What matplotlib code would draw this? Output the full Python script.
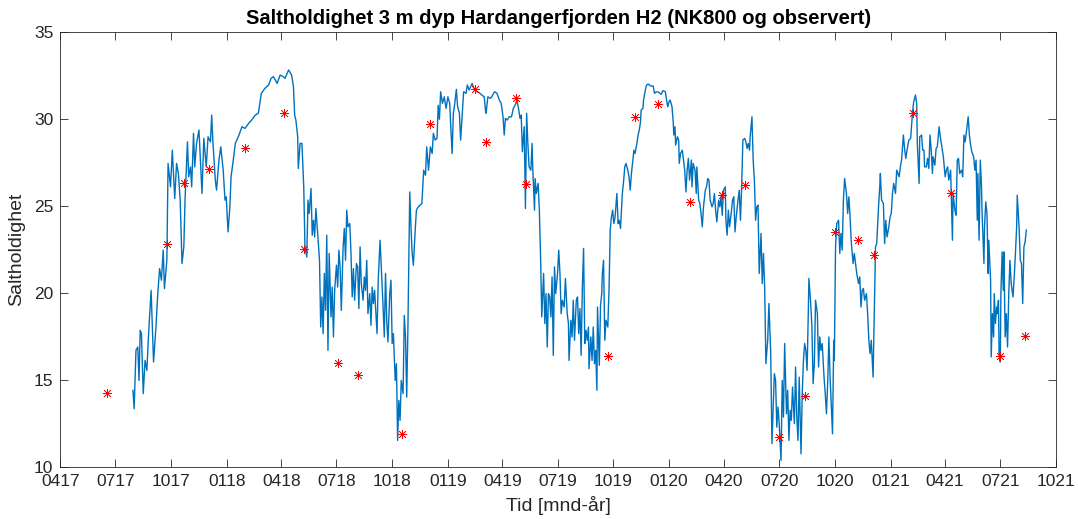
import numpy as np
import matplotlib
matplotlib.use("Agg")
import matplotlib.pyplot as plt
import matplotlib.dates as mdates

# ---------------------------------------------------------------------------
# Data (days after 2017-04-01, salinity)
# ---------------------------------------------------------------------------
START = np.datetime64("2017-04-01")

model_days = [
    120, 122, 125, 128, 130, 132, 134, 137, 140, 143, 146, 150, 154, 158, 161, 164,
    167, 170, 172, 176, 178, 182, 185, 189, 192, 195, 198, 201, 204, 206, 210, 212,
    215, 217, 220, 222, 225, 229, 234, 237, 241, 244, 248, 250, 252, 256, 258, 262,
    265, 269, 272, 274, 277, 280, 282, 286, 289, 294, 300, 305, 311, 316, 322, 327,
    332, 338, 344, 348, 352, 358, 363, 368, 371, 377, 382, 385, 387, 389, 392, 393,
    396, 399, 402, 404, 407, 409, 411, 414, 416, 418, 420, 422, 425, 428, 430, 432,
    434, 436, 438, 440, 442, 444, 447, 449, 451, 453, 456, 458, 460, 462, 464, 467,
    469, 471, 473, 475, 478, 480, 482, 484, 486, 489, 491, 493, 495, 497, 500, 502,
    504, 506, 508, 511, 513, 515, 517, 519, 523, 525, 528, 530, 533, 535, 537, 539,
    541, 544, 546, 548, 550, 553, 555, 557, 559, 561, 563, 566, 568, 570, 572, 574,
    577, 579, 581, 583, 586, 588, 591, 597, 600, 603, 605, 608, 611, 614, 616, 619,
    622, 624, 626, 628, 631, 634, 637, 640, 643, 645, 647, 649, 651, 654, 656, 659,
    661, 663, 666, 670, 672, 675, 680, 684, 688, 692, 696, 700, 702, 703, 706, 710,
    713, 717, 721, 725, 728, 731, 733, 735, 738, 741, 745, 748, 751, 754, 757, 759,
    761, 763, 766, 768, 770, 772, 774, 777, 779, 780, 783, 784, 786, 789, 791, 793,
    795, 798, 800, 802, 804, 806, 808, 810, 812, 814, 816, 818, 821, 823, 825, 827,
    829, 832, 834, 837, 839, 840, 843, 845, 847, 849, 852, 854, 856, 858, 860, 862,
    864, 866, 868, 870, 872, 873, 876, 878, 880, 882, 884, 886, 887, 890, 892, 894,
    895, 897, 899, 901, 904, 906, 908, 910, 912, 914, 916, 919, 921, 923, 925, 928,
    930, 932, 934, 937, 939, 941, 943, 946, 947, 949, 952, 954, 956, 958, 959, 962,
    963, 966, 968, 971, 975, 979, 981, 984, 988, 992, 995, 999, 1001, 1003, 1005, 1007,
    1010, 1012, 1013, 1015, 1016, 1019, 1021, 1022, 1024, 1027, 1029, 1031, 1033, 1035, 1037, 1039,
    1042, 1043, 1045, 1048, 1050, 1051, 1054, 1056, 1058, 1060, 1062, 1065, 1067, 1069, 1071, 1073,
    1076, 1078, 1080, 1082, 1084, 1087, 1089, 1091, 1093, 1095, 1098, 1099, 1101, 1103, 1105, 1108,
    1110, 1112, 1114, 1116, 1119, 1121, 1123, 1125, 1127, 1130, 1132, 1134, 1136, 1138, 1139, 1142,
    1144, 1146, 1148, 1150, 1152, 1154, 1157, 1159, 1161, 1163, 1165, 1168, 1170, 1173, 1175, 1179,
    1181, 1183, 1185, 1187, 1190, 1192, 1194, 1196, 1199, 1201, 1203, 1205, 1207, 1209, 1212, 1214,
    1216, 1218, 1220, 1223, 1225, 1227, 1229, 1231, 1233, 1235, 1236, 1239, 1241, 1243, 1245, 1247,
    1250, 1252, 1254, 1256, 1258, 1261, 1263, 1265, 1267, 1269, 1271, 1275, 1277, 1278, 1280, 1282,
    1285, 1287, 1289, 1291, 1293, 1295, 1298, 1300, 1302, 1304, 1306, 1309, 1311, 1313, 1315, 1318,
    1320, 1322, 1324, 1326, 1328, 1331, 1333, 1335, 1337, 1339, 1342, 1344, 1346, 1348, 1351, 1353,
    1354, 1356, 1359, 1361, 1363, 1365, 1368, 1370, 1372, 1374, 1376, 1379, 1381, 1383, 1385, 1387,
    1389, 1392, 1394, 1396, 1398, 1401, 1404, 1407, 1409, 1412, 1414, 1415, 1418, 1419, 1422, 1424,
    1426, 1427, 1430, 1432, 1434, 1436, 1438, 1440, 1441, 1444, 1446, 1448, 1451, 1453, 1456, 1458,
    1461, 1463, 1465, 1467, 1470, 1471, 1473, 1474, 1477, 1479, 1481, 1483, 1485, 1488, 1490, 1492,
    1494, 1497, 1499, 1501, 1503, 1505, 1508, 1510, 1512, 1514, 1515, 1517, 1519, 1521, 1522, 1525,
    1526, 1528, 1530, 1532, 1533, 1536, 1537, 1539, 1541, 1542, 1544, 1546, 1547, 1549, 1550, 1552,
    1553, 1555, 1557, 1558, 1560, 1562, 1564, 1566, 1568, 1570, 1573, 1575, 1577, 1579, 1580, 1583,
    1585, 1587, 1589, 1591, 1593, 1595,
]

model_salt = [
    14.41, 13.35, 16.71, 16.90, 14.98, 17.86, 17.67, 14.22, 16.13, 15.56, 17.76, 20.16, 16.04, 18.05, 19.97, 21.41,
    20.74, 22.47, 20.26, 21.89, 27.46, 26.11, 28.22, 25.44, 27.46, 26.88, 25.35, 21.70, 22.66, 25.35, 28.70, 26.69,
    27.26, 26.11, 29.19, 27.26, 28.61, 29.38, 25.73, 28.90, 27.26, 28.99, 28.70, 30.24, 28.70, 26.50, 25.92, 27.65,
    28.41, 27.07, 25.35, 25.54, 23.52, 24.96, 26.69, 27.75, 28.61, 28.99, 29.57, 29.47, 29.76, 29.95, 30.24, 30.34,
    31.49, 31.78, 31.97, 32.35, 32.45, 32.06, 32.54, 32.45, 32.35, 32.83, 32.54, 31.87, 30.24, 29.95, 28.99, 27.17,
    28.61, 28.61, 26.11, 22.66, 22.08, 25.35, 24.58, 26.02, 23.33, 24.19, 23.23, 24.87, 23.43, 21.89, 18.05, 19.78,
    17.67, 21.13, 19.01, 23.33, 16.71, 22.28, 18.63, 20.35, 17.48, 20.16, 21.60, 20.35, 22.47, 21.51, 19.01, 22.66,
    23.72, 21.89, 24.77, 23.81, 24.00, 22.28, 19.78, 21.41, 19.59, 21.70, 21.51, 19.11, 22.66, 20.55, 19.59, 20.93,
    20.16, 21.89, 18.82, 19.97, 18.15, 20.35, 19.40, 20.16, 17.67, 20.74, 23.04, 21.51, 19.20, 17.48, 21.13, 18.44,
    17.19, 19.97, 20.74, 17.10, 17.67, 14.98, 15.94, 11.53, 13.83, 12.68, 14.98, 14.22, 18.72, 17.48, 14.02, 18.05,
    25.82, 23.81, 22.28, 21.60, 23.62, 24.77, 24.96, 25.15, 27.07, 26.78, 28.41, 27.07, 28.41, 28.03, 29.19, 28.80,
    28.90, 30.80, 30.00, 31.58, 30.91, 31.29, 30.62, 31.29, 30.91, 29.38, 28.03, 30.34, 30.81, 31.72, 30.72, 30.34,
    28.80, 29.95, 31.58, 31.49, 31.97, 31.68, 32.06, 31.68, 31.58, 31.52, 31.39, 31.29, 30.53, 30.34, 31.29, 31.20,
    31.33, 31.58, 31.49, 31.10, 30.91, 30.14, 29.09, 30.05, 29.95, 30.14, 30.14, 30.62, 30.81, 31.10, 30.53, 30.05,
    30.24, 28.13, 29.57, 24.87, 30.34, 28.61, 27.26, 27.07, 28.61, 27.26, 24.77, 26.59, 25.73, 26.31, 24.77, 22.08,
    18.63, 21.13, 18.25, 19.97, 16.90, 19.97, 19.78, 18.63, 20.93, 16.42, 21.51, 19.97, 21.13, 22.47, 21.13, 18.82,
    19.59, 19.20, 20.84, 18.82, 18.25, 16.13, 18.44, 17.48, 19.59, 17.29, 19.59, 19.78, 17.67, 19.11, 16.42, 20.35,
    22.57, 17.10, 17.86, 17.29, 18.05, 15.65, 17.48, 16.13, 18.05, 15.94, 16.71, 14.41, 19.20, 15.85, 19.30, 19.97,
    21.13, 21.89, 17.29, 18.44, 18.05, 20.16, 23.62, 24.38, 24.77, 24.00, 24.38, 25.73, 24.00, 24.19, 23.72, 25.73,
    26.40, 27.26, 27.46, 27.07, 26.69, 25.92, 26.88, 27.84, 28.22, 28.03, 28.61, 29.09, 29.38, 29.85, 30.53, 30.62,
    31.10, 31.68, 31.97, 32.02, 31.91, 31.91, 31.49, 31.58, 31.55, 31.43, 31.64, 31.58, 31.10, 30.72, 31.00, 31.10,
    30.72, 29.85, 29.09, 29.57, 28.51, 28.99, 28.80, 27.46, 28.03, 28.22, 27.65, 27.07, 25.82, 27.07, 27.75, 26.50,
    27.65, 26.11, 27.46, 27.07, 25.73, 27.26, 25.35, 25.15, 24.58, 23.81, 24.96, 25.92, 26.11, 26.59, 26.50, 25.35,
    24.96, 25.15, 25.73, 24.77, 24.10, 25.35, 24.96, 25.54, 24.48, 25.92, 26.11, 24.19, 23.33, 24.77, 23.81, 24.67,
    25.35, 25.54, 23.52, 24.38, 25.35, 25.92, 24.19, 26.11, 28.80, 28.90, 28.70, 28.32, 28.61, 28.22, 28.99, 30.14,
    27.65, 26.50, 24.19, 24.96, 25.06, 21.13, 23.43, 20.55, 22.28, 20.35, 15.94, 17.29, 19.40, 16.52, 11.34, 15.37,
    14.98, 12.29, 13.45, 12.49, 10.38, 14.98, 12.87, 17.10, 13.06, 14.41, 11.53, 13.26, 12.68, 14.60, 12.49, 15.75,
    12.87, 11.53, 15.17, 10.76, 14.22, 16.13, 17.10, 16.71, 15.56, 18.82, 20.84, 19.40, 18.05, 14.79, 15.94, 19.59,
    18.82, 15.75, 17.48, 16.71, 17.10, 15.17, 14.22, 13.06, 14.79, 17.48, 15.17, 11.91, 17.29, 16.13, 22.66, 24.00,
    24.19, 22.28, 23.43, 22.47, 25.35, 26.59, 25.73, 24.58, 25.54, 24.38, 22.94, 21.70, 22.28, 21.70, 21.13, 20.55,
    20.93, 19.20, 20.16, 20.26, 19.59, 19.97, 18.82, 17.29, 16.52, 17.29, 15.17, 19.01, 22.66, 22.85, 24.96, 26.11,
    26.88, 25.35, 25.15, 22.85, 24.19, 23.23, 23.81, 24.38, 24.58, 25.73, 26.31, 25.73, 27.07, 26.88, 26.69, 27.26,
    27.65, 29.09, 28.30, 27.75, 28.22, 28.80, 28.90, 30.34, 31.00, 31.39, 30.91, 28.61, 26.31, 28.99, 29.09, 28.22,
    28.22, 27.26, 27.26, 27.75, 27.17, 29.09, 28.22, 26.88, 27.84, 27.36, 28.32, 28.41, 29.57, 28.99, 28.32, 27.84,
    26.69, 27.07, 27.26, 26.50, 27.07, 25.73, 23.04, 25.73, 24.77, 24.48, 27.65, 27.75, 26.88, 27.07, 26.69, 29.09,
    28.70, 29.57, 30.14, 29.09, 28.51, 28.13, 27.84, 27.07, 27.65, 24.19, 26.88, 23.04, 27.65, 26.11, 24.58, 21.70,
    23.81, 25.25, 24.58, 21.13, 23.04, 20.74, 16.33, 18.82, 17.48, 19.97, 18.25, 19.20, 18.82, 19.59, 16.52, 16.04,
    19.97, 22.37, 20.16, 22.37, 17.48, 18.82, 16.90, 19.97, 21.89, 20.55, 19.78, 20.93, 22.28, 23.81, 25.63, 23.81,
    21.89, 21.70, 19.40, 22.66, 22.94, 23.62,
]

obs_days = [77, 177, 205, 246, 305, 370, 402, 458, 492, 564, 610, 684, 703, 753, 769,
            905, 949, 987, 1040, 1093, 1130, 1187, 1230, 1279, 1317, 1343, 1408, 1471,
            1551, 1592]
obs_salt = [14.27, 22.80, 26.31, 27.11, 28.32, 30.34, 22.51, 16.00, 15.27, 11.87, 29.72,
            31.72, 28.68, 31.20, 26.28, 16.40, 30.14, 30.87, 25.23, 25.65, 26.23, 11.72,
            14.06, 23.54, 23.08, 22.18, 30.34, 25.73, 16.36, 17.52]

x_start = "2017-04-01"
x_end = "2021-10-01"
y_ticks = [10, 15, 20, 25, 30, 35]

TITLE = "Saltholdighet 3 m dyp Hardangerfjorden H2 (NK800 og observert)"
XLABEL = "Tid [mnd-år]"
YLABEL = "Saltholdighet"


def as_dates(days):
    return (START + np.array(days, dtype="timedelta64[D]")).astype("datetime64[ms]").astype(object)


def as_date(s):
    return np.datetime64(s).astype("datetime64[ms]").astype(object)


# ---------------------------------------------------------------------------
# Plot (MATLAB-like look)
# ---------------------------------------------------------------------------
plt.rcParams["font.family"] = ["Liberation Sans", "DejaVu Sans"]

fig = plt.figure(figsize=(10.78, 5.19), dpi=100)
ax = fig.add_axes([0.0559, 0.1002, 0.9237, 0.8376])

ax.plot(as_dates(model_days), model_salt, color="#0072BD", lw=1.0)
ax.plot(as_dates(obs_days), obs_salt, ls="none", marker=(8, 2, 0), ms=6.5, mew=0.5,
        color="red")

ax.set_xlim(as_date(x_start), as_date(x_end))
ax.set_ylim(10, 35)
ax.set_yticks(y_ticks)
ax.xaxis.set_major_locator(mdates.MonthLocator(bymonth=[1, 4, 7, 10]))
ax.xaxis.set_major_formatter(mdates.DateFormatter("%m%y"))

ax.tick_params(direction="in", length=6, width=0.6, color="#262626",
               labelsize=12.5, labelcolor="#262626", top=True, right=True, pad=5)
for s in ax.spines.values():
    s.set_color("#262626")
    s.set_linewidth(0.6)

ax.set_title(TITLE, fontsize=14.5, fontweight="bold", pad=6)
ax.set_xlabel(XLABEL, fontsize=14, color="#262626", labelpad=5)
ax.set_ylabel(YLABEL, fontsize=14, color="#262626", labelpad=6)

fig.savefig("out.png", dpi=100)
